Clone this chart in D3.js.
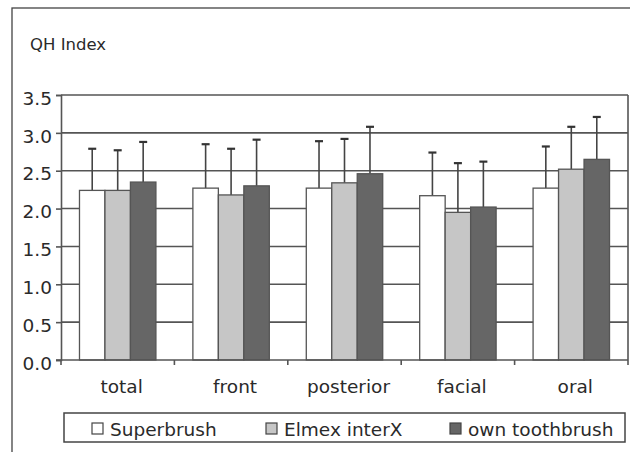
<!DOCTYPE html>
<html><head><meta charset="utf-8">
<script src="https://cdn.jsdelivr.net/npm/d3@7"></script>
<style>body{margin:0;background:#fff}svg{display:block}text{font-family:"DejaVu Sans",sans-serif;fill:#2a2a2a}</style>
</head><body><svg id="c" width="630" height="452"></svg>
<script>
const categories = ["total","front","posterior","facial","oral"];
const seriesNames = ["Superbrush","Elmex interX","own toothbrush"];
const superbrush = [2.24, 2.27, 2.27, 2.17, 2.27];
const elmex      = [2.24, 2.18, 2.34, 1.95, 2.52];
const own        = [2.35, 2.30, 2.46, 2.02, 2.65];
const superbrushErr = [2.79, 2.85, 2.89, 2.74, 2.82];
const elmexErr      = [2.77, 2.79, 2.92, 2.60, 3.08];
const ownErr        = [2.88, 2.91, 3.08, 2.62, 3.21];
const yTicks = [0,0.5,1,1.5,2,2.5,3,3.5];
const colors = ["#ffffff","#c6c6c6","#666666"];

const values = [superbrush, elmex, own];
const errs = [superbrushErr, elmexErr, ownErr];
const svg = d3.select("#c");
const L = 61, R = 628, T = 95, B = 360;
const y = d3.scaleLinear().domain([0,3.5]).range([B,T]);
const x = d3.scaleBand().domain(categories).range([L,R]).padding(0);
const xs = d3.scaleBand().domain(d3.range(3)).range([x.bandwidth()*0.163, x.bandwidth()*0.837]).padding(0);

// outer frame
svg.append("rect").attr("x",12).attr("y",8).attr("width",700).attr("height",600)
  .attr("fill","none").attr("stroke","#444").attr("stroke-width",1.3);

svg.append("text").attr("x",30).attr("y",50).attr("font-size",16.5).text("QH Index");

// gridlines
svg.append("g").selectAll("line").data(yTicks.filter(d=>d>0)).join("line")
  .attr("x1",L).attr("x2",R).attr("y1",d=>y(d)).attr("y2",d=>y(d))
  .attr("stroke","#555").attr("stroke-width",1.6);
// right border
svg.append("line").attr("x1",R).attr("x2",R).attr("y1",T).attr("y2",B).attr("stroke","#555").attr("stroke-width",1.6);

// y axis
const ya = svg.append("g").attr("transform",`translate(${L},0)`)
  .call(d3.axisLeft(y).tickValues(yTicks).tickFormat(d3.format(".1f")).tickSize(5).tickPadding(4));
ya.select(".domain").attr("stroke","#555").attr("stroke-width",1.6);
ya.selectAll(".tick line").attr("stroke","#555").attr("stroke-width",1.6);
ya.selectAll(".tick text").attr("font-size",18.5).attr("font-family","DejaVu Sans").attr("fill","#2a2a2a").attr("dy","0.5em");

// bars
const groups = svg.append("g").selectAll("g").data(categories).join("g")
  .attr("transform",d=>`translate(${x(d)},0)`);
groups.each(function(c,ci){
  const g = d3.select(this);
  d3.range(3).forEach(si=>{
    const v = values[si][ci], e = errs[si][ci];
    const cx = xs(si)+xs.bandwidth()/2;
    g.append("line").attr("x1",cx).attr("x2",cx).attr("y1",y(v)).attr("y2",y(e))
      .attr("stroke","#444").attr("stroke-width",1.6);
    g.append("line").attr("x1",cx-4).attr("x2",cx+4).attr("y1",y(e)).attr("y2",y(e))
      .attr("stroke","#333").attr("stroke-width",2.2);
    g.append("rect").attr("x",xs(si)).attr("y",y(v)).attr("width",xs.bandwidth()).attr("height",B-y(v))
      .attr("fill",colors[si]).attr("stroke","#555").attr("stroke-width",1.3);
  });
});

// x axis
const xa = svg.append("g").attr("transform",`translate(0,${B})`)
  .call(d3.axisBottom(x).tickSize(0).tickPadding(20));
xa.select(".domain").remove();
xa.selectAll(".tick text").attr("font-size",18.5).attr("font-family","DejaVu Sans").attr("fill","#2a2a2a").attr("dx",4);
svg.append("line").attr("x1",L-5).attr("x2",R).attr("y1",B).attr("y2",B).attr("stroke","#555").attr("stroke-width",1.6);
svg.append("g").selectAll("line").data(categories.map(c=>x(c)).concat([R])).join("line")
  .attr("x1",d=>d).attr("x2",d=>d).attr("y1",B).attr("y2",B+5).attr("stroke","#555").attr("stroke-width",1.6);

// legend
svg.append("rect").attr("x",64).attr("y",413).attr("width",561).attr("height",29)
  .attr("fill","#fff").attr("stroke","#444").attr("stroke-width",1.5);
const legX = [92, 266, 450];
const leg = svg.append("g").selectAll("g").data(seriesNames).join("g")
  .attr("transform",(d,i)=>`translate(${legX[i]},423)`);
leg.append("rect").attr("width",11).attr("height",11).attr("fill",(d,i)=>colors[i]).attr("stroke","#444").attr("stroke-width",1.2);
leg.append("text").attr("x",18).attr("y",13).attr("font-size",18.5).text(d=>d);
</script></body></html>
